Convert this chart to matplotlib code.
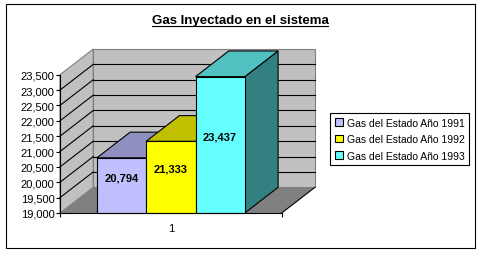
import matplotlib
matplotlib.use("Agg")
import matplotlib.pyplot as plt
from matplotlib.patches import Polygon, Rectangle, Patch
from matplotlib.lines import Line2D

plt.rcParams['font.family'] = ['Liberation Sans', 'DejaVu Sans']

# ---- data ----
title = "Gas Inyectado en el sistema"
categories = ["1"]
series_names = ["Gas del Estado Año 1991", "Gas del Estado Año 1992", "Gas del Estado Año 1993"]
values = [20794, 21333, 23437]
y_min, y_max, y_step = 19000, 23500, 500

front_colors = ["#c0c0ff", "#ffff00", "#66ffff"]
top_colors = ["#9090c0", "#c0c000", "#50c0c0"]
side_colors = ["#8080a0", "#808000", "#338080"]

# ---- geometry (pseudo 3D) ----
W, H = 480, 255
fig = plt.figure(figsize=(W / 100, H / 100), dpi=100)
fig.patch.set_facecolor("white")
ax = fig.add_axes([60 / W, 1 - 214 / H, 221.7 / W, 138.3 / H])
ax.set_xlim(0, 1)
ax.set_ylim(y_min, y_max)
ax.set_facecolor("none")

dx = 0.150          # depth offset in x data units
dy = 836            # depth offset in value units
bar_w = 0.2225
n = len(values)

wall_c = "#c0c0c0"
floor_c = "#808080"
edge_gray = "#808080"

# left wall
ax.add_patch(Polygon([(0, y_min), (0, y_max), (dx, y_max + dy), (dx, y_min + dy)],
                     closed=True, facecolor=wall_c, edgecolor=edge_gray, lw=0.8,
                     clip_on=False, zorder=1))
# back wall
ax.add_patch(Polygon([(dx, y_min + dy), (dx, y_max + dy), (1 + dx, y_max + dy), (1 + dx, y_min + dy)],
                     closed=True, facecolor=wall_c, edgecolor=edge_gray, lw=0.8,
                     clip_on=False, zorder=1))
# gridlines
ticks = list(range(y_min, y_max + 1, y_step))
for v in ticks[1:-1]:
    ax.plot([0, dx], [v, v + dy], color="black", lw=0.8, clip_on=False, zorder=2)
    ax.plot([dx, 1 + dx], [v + dy, v + dy], color="black", lw=0.8, clip_on=False, zorder=2)
# floor
ax.add_patch(Polygon([(0, y_min), (1, y_min), (1 + dx, y_min + dy), (dx, y_min + dy)],
                     closed=True, facecolor=floor_c, edgecolor="none",
                     clip_on=False, zorder=3))
ax.plot([1, 1 + dx], [y_min, y_min + dy], color="black", lw=0.8, clip_on=False, zorder=3)

# bars
centers = [0.5 + (i - (n - 1) / 2) * bar_w for i in range(n)]
for i, (c, v) in enumerate(zip(centers, values)):
    x0, x1 = c - bar_w / 2, c + bar_w / 2
    z = 10 + i * 3
    ax.add_patch(Polygon([(x1, y_min), (x1, v), (x1 + dx, v + dy), (x1 + dx, y_min + dy)],
                         closed=True, facecolor=side_colors[i], edgecolor="black", lw=0.8,
                         clip_on=False, zorder=z))
    ax.add_patch(Polygon([(x0, v), (x1, v), (x1 + dx, v + dy), (x0 + dx, v + dy)],
                         closed=True, facecolor=top_colors[i], edgecolor="black", lw=0.8,
                         clip_on=False, zorder=z + 1))
    ax.bar(c, v - y_min, bottom=y_min, width=bar_w, color=front_colors[i],
           edgecolor="black", lw=0.8, zorder=z + 2, clip_on=False)
    ax.annotate(f"{v:,}", xy=(c, (y_min + v) / 2), xytext=(0, 6), textcoords="offset points",
                ha="center", va="center", fontsize=8, fontweight="bold", zorder=30)

# axes styling
for s in ["top", "right"]:
    ax.spines[s].set_visible(False)
ax.spines["left"].set_zorder(40)
ax.spines["bottom"].set_zorder(40)
ax.spines["left"].set_linewidth(0.8)
ax.spines["bottom"].set_linewidth(0.8)
ax.set_yticks(ticks)
ax.set_yticklabels([f"{t:,}" for t in ticks], fontsize=8)
ax.tick_params(axis="y", direction="out", length=3, width=0.8, pad=1)
ax.set_xticks([0, 1])
ax.set_xticklabels(["", ""])
ax.set_xticks([0.5], minor=True)
ax.set_xticklabels(categories, minor=True, fontsize=8)
ax.tick_params(axis="x", which="major", direction="out", length=3, width=0.8)
ax.tick_params(axis="x", which="minor", length=0, pad=7)

# legend
handles = [Patch(facecolor=fc, edgecolor="black", lw=0.8) for fc in front_colors]
leg = fig.legend(handles, series_names, loc="upper left",
                 bbox_to_anchor=(330 / W, 1 - 114 / H), fontsize=7.5,
                 frameon=True, fancybox=False, edgecolor="black", framealpha=1,
                 handlelength=0.75, handleheight=0.75, handletextpad=0.4,
                 labelspacing=0.62, borderpad=0.45, borderaxespad=0)
leg.get_frame().set_linewidth(0.8)

# title with underline
t = fig.text(240 / W, 1 - 21 / H, title, ha="center", va="center",
             fontsize=9.5, fontweight="bold")
fig.canvas.draw()
bb = t.get_window_extent()
uy = 1 - 26.7 / H
fig.add_artist(Line2D([bb.x0 / W, bb.x1 / W], [uy, uy], transform=fig.transFigure,
                      color="black", lw=0.8))

# outer border
fig.add_artist(Rectangle((6 / W, 1 - 249 / H), 469 / W, 244 / H, transform=fig.transFigure,
                         fill=False, edgecolor="black", lw=0.8))

fig.savefig("out.png", dpi=100)
